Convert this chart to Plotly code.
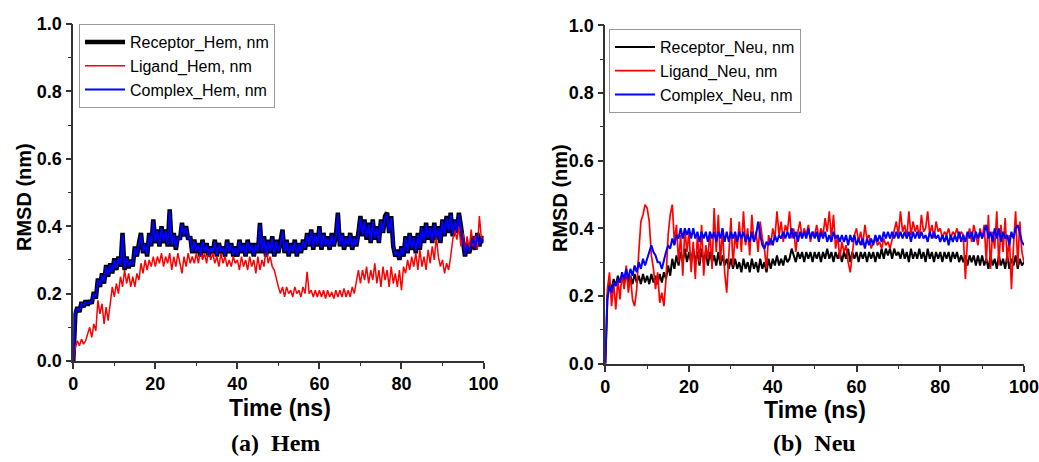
import plotly.graph_objects as go

# time axis (ns), 0.5 ns sampling
time = [i * 0.5 for i in range(201)]

# ---------------- Hem ----------------
receptor_hem = [
    0.00, 0.14, 0.16, 0.145, 0.175, 0.16, 0.18, 0.165, 0.18, 0.17, 0.205, 0.185, 0.245, 0.22, 0.26, 0.23, 0.285, 0.25, 0.29, 0.26,
    0.305, 0.27, 0.31, 0.28, 0.38, 0.27, 0.31, 0.275, 0.30, 0.28, 0.34, 0.31, 0.35, 0.38, 0.32, 0.35, 0.31, 0.38, 0.34, 0.42,
    0.35, 0.39, 0.34, 0.40, 0.35, 0.39, 0.34, 0.45, 0.34, 0.38, 0.33, 0.37, 0.36, 0.41, 0.37, 0.40, 0.36, 0.37, 0.32, 0.36,
    0.32, 0.35, 0.31, 0.36, 0.32, 0.35, 0.31, 0.34, 0.32, 0.36, 0.31, 0.35, 0.32, 0.34, 0.31, 0.36, 0.32, 0.35, 0.31, 0.34,
    0.31, 0.36, 0.32, 0.35, 0.31, 0.36, 0.32, 0.35, 0.31, 0.35, 0.32, 0.41, 0.32, 0.37, 0.31, 0.36, 0.32, 0.37, 0.31, 0.36,
    0.32, 0.35, 0.39, 0.32, 0.36, 0.31, 0.35, 0.32, 0.36, 0.31, 0.35, 0.32, 0.36, 0.33, 0.38, 0.34, 0.39, 0.33, 0.38, 0.34,
    0.40, 0.33, 0.38, 0.34, 0.37, 0.33, 0.38, 0.34, 0.37, 0.44, 0.34, 0.38, 0.33, 0.37, 0.34, 0.38, 0.33, 0.37, 0.34, 0.38,
    0.43, 0.37, 0.42, 0.36, 0.41, 0.35, 0.42, 0.36, 0.40, 0.35, 0.42, 0.38, 0.43, 0.44, 0.38, 0.43, 0.34, 0.31, 0.33, 0.30,
    0.34, 0.31, 0.37, 0.32, 0.38, 0.33, 0.37, 0.32, 0.38, 0.33, 0.40, 0.35, 0.41, 0.36, 0.40, 0.35, 0.41, 0.36, 0.40, 0.35,
    0.42, 0.37, 0.43, 0.38, 0.44, 0.37, 0.42, 0.38, 0.44, 0.40, 0.34, 0.31, 0.35, 0.32, 0.34, 0.37, 0.33, 0.38, 0.34, 0.37,
    0.35,
]
ligand_hem = [
    0.00, 0.04, 0.06, 0.045, 0.065, 0.05, 0.06, 0.08, 0.10, 0.07, 0.11, 0.09, 0.18, 0.14, 0.17, 0.11, 0.16, 0.12, 0.17, 0.22,
    0.19, 0.23, 0.20, 0.25, 0.22, 0.27, 0.23, 0.26, 0.22, 0.25, 0.22, 0.26, 0.24, 0.29, 0.26, 0.30, 0.27, 0.30, 0.28, 0.31,
    0.28, 0.31, 0.29, 0.32, 0.28, 0.31, 0.29, 0.32, 0.27, 0.31, 0.28, 0.32, 0.29, 0.26, 0.31, 0.28, 0.32, 0.29, 0.31, 0.29,
    0.32, 0.29, 0.33, 0.30, 0.32, 0.29, 0.33, 0.30, 0.32, 0.29, 0.31, 0.28, 0.32, 0.29, 0.31, 0.28, 0.30, 0.28, 0.31, 0.29,
    0.30, 0.27, 0.31, 0.28, 0.30, 0.27, 0.31, 0.28, 0.30, 0.26, 0.31, 0.27, 0.30, 0.28, 0.34, 0.29, 0.31, 0.28, 0.27, 0.24,
    0.22, 0.20, 0.22, 0.19, 0.22, 0.20, 0.21, 0.19, 0.22, 0.20, 0.21, 0.19, 0.22, 0.20, 0.265, 0.20, 0.21, 0.19, 0.21, 0.19,
    0.21, 0.19, 0.21, 0.185, 0.21, 0.19, 0.205, 0.185, 0.21, 0.19, 0.21, 0.19, 0.215, 0.19, 0.21, 0.19, 0.22, 0.20, 0.24, 0.27,
    0.23, 0.27, 0.24, 0.28, 0.23, 0.27, 0.24, 0.29, 0.23, 0.27, 0.22, 0.28, 0.24, 0.27, 0.22, 0.28, 0.23, 0.26, 0.22, 0.27,
    0.21, 0.28, 0.26, 0.30, 0.27, 0.31, 0.28, 0.32, 0.27, 0.33, 0.28, 0.31, 0.27, 0.33, 0.29, 0.34, 0.30, 0.37, 0.31, 0.28,
    0.30, 0.26, 0.29, 0.27, 0.31, 0.36, 0.39, 0.36, 0.40, 0.34, 0.38, 0.32, 0.37, 0.33, 0.39, 0.34, 0.37, 0.33, 0.43, 0.36,
    0.37,
]
complex_hem = [
    0.00, 0.145, 0.155, 0.15, 0.17, 0.165, 0.175, 0.17, 0.175, 0.175, 0.20, 0.19, 0.24, 0.225, 0.255, 0.235, 0.28, 0.255, 0.285, 0.265,
    0.30, 0.275, 0.305, 0.285, 0.375, 0.275, 0.305, 0.28, 0.295, 0.285, 0.335, 0.315, 0.345, 0.375, 0.325, 0.345, 0.315, 0.375, 0.345, 0.415,
    0.355, 0.385, 0.345, 0.395, 0.355, 0.385, 0.345, 0.445, 0.345, 0.375, 0.335, 0.365, 0.365, 0.405, 0.375, 0.395, 0.365, 0.365, 0.325, 0.355,
    0.325, 0.345, 0.315, 0.355, 0.325, 0.345, 0.315, 0.335, 0.325, 0.355, 0.315, 0.345, 0.325, 0.335, 0.315, 0.355, 0.325, 0.345, 0.315, 0.335,
    0.315, 0.355, 0.325, 0.345, 0.315, 0.355, 0.325, 0.345, 0.315, 0.345, 0.325, 0.405, 0.325, 0.365, 0.315, 0.355, 0.325, 0.365, 0.315, 0.355,
    0.325, 0.345, 0.385, 0.325, 0.355, 0.315, 0.345, 0.325, 0.355, 0.315, 0.345, 0.325, 0.355, 0.335, 0.375, 0.345, 0.385, 0.335, 0.375, 0.345,
    0.395, 0.335, 0.375, 0.345, 0.365, 0.335, 0.375, 0.345, 0.365, 0.435, 0.345, 0.375, 0.335, 0.365, 0.345, 0.375, 0.335, 0.365, 0.345, 0.375,
    0.425, 0.375, 0.415, 0.365, 0.405, 0.355, 0.415, 0.365, 0.395, 0.355, 0.415, 0.385, 0.425, 0.435, 0.385, 0.425, 0.345, 0.315, 0.325, 0.305,
    0.335, 0.315, 0.365, 0.325, 0.375, 0.335, 0.365, 0.325, 0.375, 0.335, 0.395, 0.355, 0.405, 0.365, 0.395, 0.355, 0.405, 0.365, 0.395, 0.355,
    0.415, 0.375, 0.425, 0.385, 0.435, 0.375, 0.415, 0.385, 0.435, 0.395, 0.345, 0.315, 0.345, 0.325, 0.345, 0.365, 0.335, 0.375, 0.345, 0.365,
    0.355,
]

# ---------------- Neu ----------------
receptor_neu = [
    0.00, 0.20, 0.24, 0.22, 0.25, 0.23, 0.26, 0.24, 0.26, 0.235, 0.265, 0.24, 0.26, 0.235, 0.265, 0.24, 0.26, 0.235, 0.265, 0.24,
    0.26, 0.235, 0.265, 0.24, 0.26, 0.235, 0.265, 0.24, 0.27, 0.25, 0.29, 0.26, 0.31, 0.28, 0.32, 0.29, 0.33, 0.30, 0.34, 0.30,
    0.33, 0.30, 0.34, 0.30, 0.33, 0.29, 0.34, 0.30, 0.33, 0.29, 0.33, 0.30, 0.32, 0.29, 0.33, 0.29, 0.32, 0.29, 0.31, 0.28,
    0.31, 0.28, 0.31, 0.28, 0.30, 0.27, 0.31, 0.28, 0.30, 0.27, 0.31, 0.28, 0.30, 0.27, 0.31, 0.28, 0.30, 0.27, 0.31, 0.28,
    0.31, 0.29, 0.32, 0.29, 0.31, 0.29, 0.32, 0.30, 0.31, 0.34, 0.32, 0.30, 0.33, 0.31, 0.33, 0.30, 0.33, 0.31, 0.33, 0.30,
    0.33, 0.31, 0.33, 0.30, 0.33, 0.31, 0.34, 0.31, 0.33, 0.30, 0.33, 0.31, 0.33, 0.30, 0.33, 0.31, 0.34, 0.30, 0.33, 0.31,
    0.33, 0.30, 0.33, 0.31, 0.33, 0.30, 0.33, 0.31, 0.33, 0.30, 0.33, 0.31, 0.34, 0.31, 0.34, 0.32, 0.34, 0.31, 0.34, 0.32,
    0.33, 0.31, 0.34, 0.31, 0.33, 0.30, 0.34, 0.31, 0.33, 0.31, 0.34, 0.31, 0.33, 0.30, 0.34, 0.31, 0.33, 0.30, 0.33, 0.31,
    0.33, 0.30, 0.33, 0.31, 0.33, 0.30, 0.33, 0.31, 0.33, 0.30, 0.32, 0.30, 0.32, 0.29, 0.32, 0.30, 0.32, 0.29, 0.32, 0.29,
    0.32, 0.29, 0.31, 0.28, 0.32, 0.29, 0.31, 0.28, 0.32, 0.29, 0.31, 0.28, 0.32, 0.28, 0.31, 0.29, 0.32, 0.28, 0.31, 0.29,
    0.30,
]
ligand_neu = [
    0.00, 0.22, 0.27, 0.17, 0.24, 0.16, 0.25, 0.19, 0.27, 0.22, 0.29, 0.21, 0.26, 0.19, 0.17, 0.22, 0.33, 0.42, 0.44, 0.47,
    0.46, 0.42, 0.32, 0.28, 0.22, 0.27, 0.18, 0.21, 0.17, 0.25, 0.38, 0.44, 0.47, 0.36, 0.41, 0.30, 0.38, 0.26, 0.40, 0.33,
    0.39, 0.27, 0.36, 0.25, 0.38, 0.30, 0.41, 0.26, 0.35, 0.31, 0.39, 0.28, 0.46, 0.33, 0.44, 0.30, 0.40, 0.27, 0.21, 0.33,
    0.43, 0.29, 0.38, 0.34, 0.42, 0.33, 0.45, 0.35, 0.40, 0.32, 0.44, 0.36, 0.39, 0.33, 0.42, 0.37, 0.34, 0.28, 0.38, 0.35,
    0.40, 0.37, 0.45, 0.38, 0.42, 0.36, 0.41, 0.39, 0.45, 0.37, 0.40, 0.33, 0.39, 0.42, 0.37, 0.40, 0.38, 0.41, 0.36, 0.39,
    0.38, 0.41, 0.37, 0.40, 0.38, 0.43, 0.39, 0.45, 0.37, 0.44, 0.34, 0.38, 0.31, 0.36, 0.33, 0.35, 0.30, 0.27, 0.33, 0.38,
    0.40, 0.36, 0.39, 0.35, 0.41, 0.37, 0.38, 0.34, 0.36, 0.37, 0.35, 0.36, 0.34, 0.37, 0.35, 0.36, 0.34, 0.37, 0.39, 0.42,
    0.38, 0.45, 0.39, 0.41, 0.37, 0.45, 0.38, 0.42, 0.39, 0.41, 0.37, 0.44, 0.39, 0.40, 0.45, 0.38, 0.41, 0.37, 0.42, 0.39,
    0.40, 0.37, 0.39, 0.38, 0.40, 0.37, 0.39, 0.38, 0.40, 0.37, 0.39, 0.38, 0.25, 0.37, 0.40, 0.36, 0.41, 0.38, 0.35, 0.40,
    0.37, 0.41, 0.30, 0.44, 0.28, 0.39, 0.34, 0.45, 0.29, 0.41, 0.33, 0.43, 0.30, 0.38, 0.22, 0.35, 0.45, 0.29, 0.42, 0.33,
    0.30,
]
complex_neu = [
    0.00, 0.19, 0.23, 0.21, 0.24, 0.23, 0.25, 0.24, 0.27, 0.25, 0.28, 0.25, 0.28, 0.26, 0.29, 0.27, 0.30, 0.28, 0.31, 0.29,
    0.31, 0.33, 0.35, 0.33, 0.32, 0.30, 0.30, 0.28, 0.31, 0.33, 0.35, 0.34, 0.37, 0.35, 0.38, 0.37, 0.40, 0.37, 0.40, 0.38,
    0.40, 0.37, 0.40, 0.37, 0.39, 0.36, 0.39, 0.37, 0.39, 0.36, 0.39, 0.37, 0.39, 0.36, 0.39, 0.37, 0.40, 0.36, 0.39, 0.36,
    0.39, 0.37, 0.39, 0.36, 0.39, 0.37, 0.39, 0.36, 0.38, 0.36, 0.39, 0.36, 0.38, 0.42, 0.38, 0.35, 0.34, 0.36, 0.35, 0.37,
    0.35, 0.38, 0.36, 0.38, 0.37, 0.39, 0.37, 0.39, 0.37, 0.40, 0.37, 0.39, 0.36, 0.39, 0.37, 0.39, 0.37, 0.40, 0.37, 0.39,
    0.37, 0.39, 0.36, 0.39, 0.37, 0.39, 0.36, 0.38, 0.36, 0.39, 0.37, 0.38, 0.36, 0.38, 0.36, 0.38, 0.35, 0.38, 0.36, 0.38,
    0.35, 0.37, 0.35, 0.37, 0.34, 0.37, 0.35, 0.37, 0.35, 0.38, 0.36, 0.38, 0.36, 0.39, 0.37, 0.39, 0.37, 0.39, 0.37, 0.39,
    0.37, 0.39, 0.37, 0.39, 0.37, 0.39, 0.36, 0.39, 0.37, 0.39, 0.37, 0.39, 0.37, 0.38, 0.36, 0.39, 0.37, 0.39, 0.37, 0.38,
    0.36, 0.38, 0.36, 0.38, 0.35, 0.38, 0.36, 0.38, 0.36, 0.39, 0.36, 0.38, 0.36, 0.39, 0.37, 0.39, 0.36, 0.39, 0.37, 0.39,
    0.37, 0.39, 0.41, 0.37, 0.39, 0.36, 0.40, 0.37, 0.40, 0.36, 0.39, 0.37, 0.38, 0.35, 0.39, 0.37, 0.40, 0.41, 0.38, 0.36,
    0.35,
]

x_ticks = [0, 20, 40, 60, 80, 100]
y_ticks = [0.0, 0.2, 0.4, 0.6, 0.8, 1.0]

W, H = 1039, 462
SANS = "Liberation Sans"
SERIF = "Liberation Serif"

fig = go.Figure()

# Hem panel
fig.add_trace(go.Scatter(x=time, y=receptor_hem, mode="lines", name="Receptor_Hem, nm",
                         line=dict(color="black", width=4.5), xaxis="x", yaxis="y", legend="legend"))
fig.add_trace(go.Scatter(x=time, y=ligand_hem, mode="lines", name="Ligand_Hem, nm",
                         line=dict(color="#ff0000", width=1.5), xaxis="x", yaxis="y", legend="legend"))
fig.add_trace(go.Scatter(x=time, y=complex_hem, mode="lines", name="Complex_Hem, nm",
                         line=dict(color="#0000ff", width=2), xaxis="x", yaxis="y", legend="legend"))

# Neu panel
fig.add_trace(go.Scatter(x=time, y=receptor_neu, mode="lines", name="Receptor_Neu, nm",
                         line=dict(color="black", width=2), xaxis="x2", yaxis="y2", legend="legend2"))
fig.add_trace(go.Scatter(x=time, y=ligand_neu, mode="lines", name="Ligand_Neu, nm",
                         line=dict(color="#ff0000", width=1.7), xaxis="x2", yaxis="y2", legend="legend2"))
fig.add_trace(go.Scatter(x=time, y=complex_neu, mode="lines", name="Complex_Neu, nm",
                         line=dict(color="#0000ff", width=2), xaxis="x2", yaxis="y2", legend="legend2"))

def px_x(p):
    return p / W

def px_y(p):
    return (H - p) / H

axis_common = dict(
    showline=True, linecolor="#333333", linewidth=1.6, mirror=False,
    ticks="outside", ticklen=6, tickwidth=1.6, tickcolor="#333333",
    showgrid=False, zeroline=False, automargin=False, ticklabeloverflow="allow",
    tickfont=dict(family=SANS, size=18, color="black", weight="bold"),
)
minor_x = dict(ticks="outside", ticklen=3.5, tickwidth=1.3, tickcolor="#333333", dtick=10, tick0=0)
minor_y = dict(ticks="outside", ticklen=3.5, tickwidth=1.3, tickcolor="#333333", dtick=0.1, tick0=0)

fig.update_layout(
    width=W, height=H,
    margin=dict(l=0, r=0, t=0, b=0),
    paper_bgcolor="white", plot_bgcolor="white",
    showlegend=True,
    xaxis=dict(domain=[px_x(73.3), px_x(483.5)], anchor="y", range=[0, 100],
               tickvals=x_ticks, ticktext=[str(v) for v in x_ticks], minor=minor_x, **axis_common),
    yaxis=dict(domain=[px_y(361), px_y(24)], anchor="x", range=[0, 1],
               tickvals=y_ticks, ticktext=[f"{v:.1f}" for v in y_ticks], minor=minor_y, **axis_common),
    xaxis2=dict(domain=[px_x(605.3), px_x(1024)], anchor="y2", range=[0, 100],
                tickvals=x_ticks, ticktext=[str(v) for v in x_ticks], minor=minor_x, **axis_common),
    yaxis2=dict(domain=[px_y(363.7), px_y(25.2)], anchor="x2", range=[0, 1],
                tickvals=y_ticks, ticktext=[f"{v:.1f}" for v in y_ticks], minor=minor_y, **axis_common),
    legend=dict(x=px_x(79), y=px_y(24), xanchor="left", yanchor="top",
                bgcolor="white", bordercolor="#999999", borderwidth=1,
                font=dict(family=SANS, size=16, color="black"),
                tracegroupgap=0, itemwidth=40),
    legend2=dict(x=px_x(609), y=px_y(29), xanchor="left", yanchor="top",
                 bgcolor="white", bordercolor="#999999", borderwidth=1,
                 font=dict(family=SANS, size=16, color="black"),
                 tracegroupgap=0, itemwidth=40),
)

annotations = [
    dict(text="<b>RMSD (nm)</b>", x=px_x(24), y=px_y(197), textangle=-90,
         font=dict(family=SANS, size=20, color="black")),
    dict(text="<b>RMSD (nm)</b>", x=px_x(560), y=px_y(198), textangle=-90,
         font=dict(family=SANS, size=20, color="black")),
    dict(text="<b>Time (ns)</b>", x=px_x(280), y=px_y(408),
         font=dict(family=SANS, size=23, color="black")),
    dict(text="<b>Time (ns)</b>", x=px_x(815), y=px_y(410),
         font=dict(family=SANS, size=23, color="black")),
    dict(text="<b>(a)  Hem</b>", x=px_x(275), y=px_y(443),
         font=dict(family=SERIF, size=24, color="black")),
    dict(text="<b>(b)  Neu</b>", x=px_x(814), y=px_y(443),
         font=dict(family=SERIF, size=24, color="black")),
]
for a in annotations:
    a.update(xref="paper", yref="paper", showarrow=False, xanchor="center", yanchor="middle")
fig.update_layout(annotations=annotations)

fig.write_html("out.html")
